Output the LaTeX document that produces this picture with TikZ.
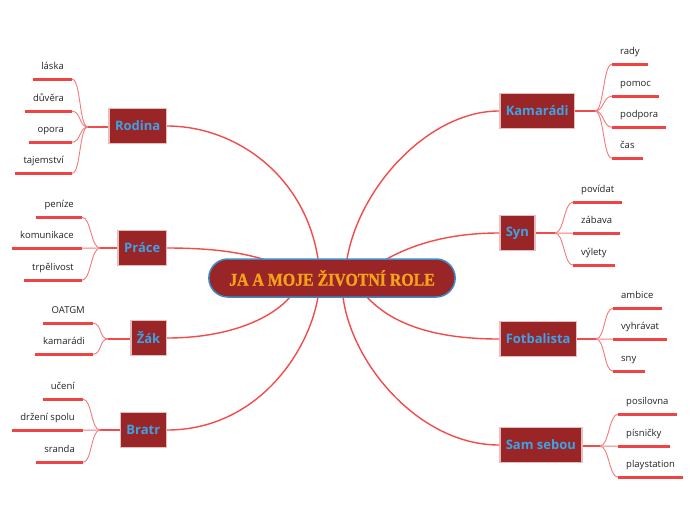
\documentclass[tikz,border=0pt]{standalone}
\usepackage{fontspec}
\setmainfont{Open Sans}
\newfontfamily\titlefont[FakeStretch=0.88,FakeBold=1.2]{Liberation Serif}
\usetikzlibrary{shapes.misc}
\definecolor{boxred}{HTML}{9A2527}
\definecolor{boxborder}{HTML}{E8BDBD}
\definecolor{topicblue}{HTML}{3BA3E6}
\definecolor{centerblue}{HTML}{3A8CCB}
\definecolor{titleorange}{HTML}{F5A21B}
\definecolor{linered}{HTML}{F24B4B}
\definecolor{ulred}{HTML}{F04343}
\definecolor{twigred}{HTML}{F37A7A}
\definecolor{textdark}{HTML}{222222}
\newcommand\leafL[5]{%
  \node[leaf,anchor=east] (#1) at (#2,#3) {#4};
  \draw[uline] (#1.south west) -- (#1.south east);
  \draw[twig] (#5) .. controls +(-9,0) and +(9,0) .. (#1.south east);
}
\newcommand\leafR[5]{%
  \node[leaf,anchor=west] (#1) at (#2,#3) {#4};
  \draw[uline] (#1.south west) -- (#1.south east);
  \draw[twig] (#5) .. controls +(9,0) and +(-9,0) .. (#1.south west);
}
\begin{document}
\begin{tikzpicture}[x=1pt,y=-1pt,
  topic/.style={draw=boxborder, line width=1.5pt, fill=boxred, text=topicblue,
    font=\bfseries\fontsize{13}{15}\selectfont, minimum height=35pt, inner xsep=6pt},
  centre/.style={rounded rectangle, draw=centerblue, line width=1.5pt, fill=boxred,
    text=titleorange, font=\titlefont\bfseries\fontsize{18}{20}\selectfont,
    minimum width=253pt, minimum height=38pt},
  leaf/.style={font=\fontsize{9.5}{11}\selectfont, text=textdark, inner xsep=8pt,
    inner ysep=7.5pt, text height=7pt, text depth=2pt},
  uline/.style={draw=ulred, line width=3pt},
  mainline/.style={draw=linered, line width=1.4pt},
  twig/.style={draw=twigred, line width=0.9pt}]
\useasboundingbox (0,0) rectangle (696,520);

% topic boxes
\node[topic,anchor=east] (rod) at (167,126) {Rodina};
\node[topic,anchor=east] (pra) at (167,248) {Práce};
\node[topic,anchor=east] (zak) at (167,338) {Žák};
\node[topic,anchor=east] (bra) at (167,430) {Bratr};
\node[topic,anchor=west] (kam) at (499,111) {Kamarádi};
\node[topic,anchor=west] (syn) at (499,233) {Syn};
\node[topic,anchor=west] (fot) at (499,339) {Fotbalista};
\node[topic,anchor=west] (sam) at (499,445) {Sam sebou};

% attachment points on the centre
\coordinate (cR) at (318,259);
\coordinate (cP) at (266,260);
\coordinate (cZ) at (290,297);
\coordinate (cB) at (318,297);
\coordinate (cK) at (347,259);
\coordinate (cS) at (385,260);
\coordinate (cF) at (367,297);
\coordinate (cM) at (343,297);

% main connectors
\draw[mainline] (rod.east) .. controls (235,126) and (305,175) .. (cR);
\draw[mainline] (pra.east) .. controls (210,248) and (240,252) .. (cP);
\draw[mainline] (zak.east) .. controls (230,338) and (272,318) .. (cZ);
\draw[mainline] (bra.east) .. controls (255,430) and (308,355) .. (cB);
\draw[mainline] (kam.west) .. controls (430,111) and (360,185) .. (cK);
\draw[mainline] (syn.west) .. controls (460,233) and (420,240) .. (cS);
\draw[mainline] (fot.west) .. controls (430,339) and (390,322) .. (cF);
\draw[mainline] (sam.west) .. controls (420,445) and (352,365) .. (cM);

% centre
\node[centre] (c) at (332,278) {JA A MOJE ŽIVOTNÍ ROLE};

% junctions
\coordinate (jR) at (88,127);
\coordinate (jP) at (100,248);
\coordinate (jZ) at (108,339);
\coordinate (jB) at (100,430);
\coordinate (jK) at (595,111);
\coordinate (jS) at (555,233);
\coordinate (jF) at (596,339);
\coordinate (jM) at (600,446);
\draw[mainline] (rod.west |- jR) -- (jR);
\draw[mainline] (pra.west) -- (jP);
\draw[mainline] (zak.west |- jZ) -- (jZ);
\draw[mainline] (bra.west) -- (jB);
\draw[mainline] (kam.east) -- (jK);
\draw[mainline] (syn.east) -- (jS);
\draw[mainline] (fot.east) -- (jF);
\draw[mainline] (sam.east |- jM) -- (jM);

% leaves
\leafL{r1}{72}{67}{láska}{jR}
\leafL{r2}{72}{99}{důvěra}{jR}
\leafL{r3}{72}{130}{opora}{jR}
\leafL{r4}{72}{161}{tajemství}{jR}
\leafL{p1}{82}{205}{peníze}{jP}
\leafL{p2}{82}{236}{komunikace}{jP}
\leafL{p3}{82}{268}{trpělivost}{jP}
\leafL{z1}{93}{311}{OATGM}{jZ}
\leafL{z2}{93}{342}{kamarádi}{jZ}
\leafL{b1}{83}{387}{učení}{jB}
\leafL{b2}{83}{418}{držení spolu}{jB}
\leafL{b3}{83}{450}{sranda}{jB}
\leafR{k1}{612}{52}{rady}{jK}
\leafR{k2}{612}{84}{pomoc}{jK}
\leafR{k3}{612}{115}{podpora}{jK}
\leafR{k4}{612}{146}{čas}{jK}
\leafR{s1}{573}{190}{povídat}{jS}
\leafR{s2}{573}{221}{zábava}{jS}
\leafR{s3}{573}{253}{výlety}{jS}
\leafR{f1}{613}{296}{ambice}{jF}
\leafR{f2}{613}{327}{vyhrávat}{jF}
\leafR{f3}{613}{359}{sny}{jF}
\leafR{m1}{618}{402}{posilovna}{jM}
\leafR{m2}{618}{434}{písničky}{jM}
\leafR{m3}{618}{465}{playstation}{jM}
\end{tikzpicture}
\end{document}
